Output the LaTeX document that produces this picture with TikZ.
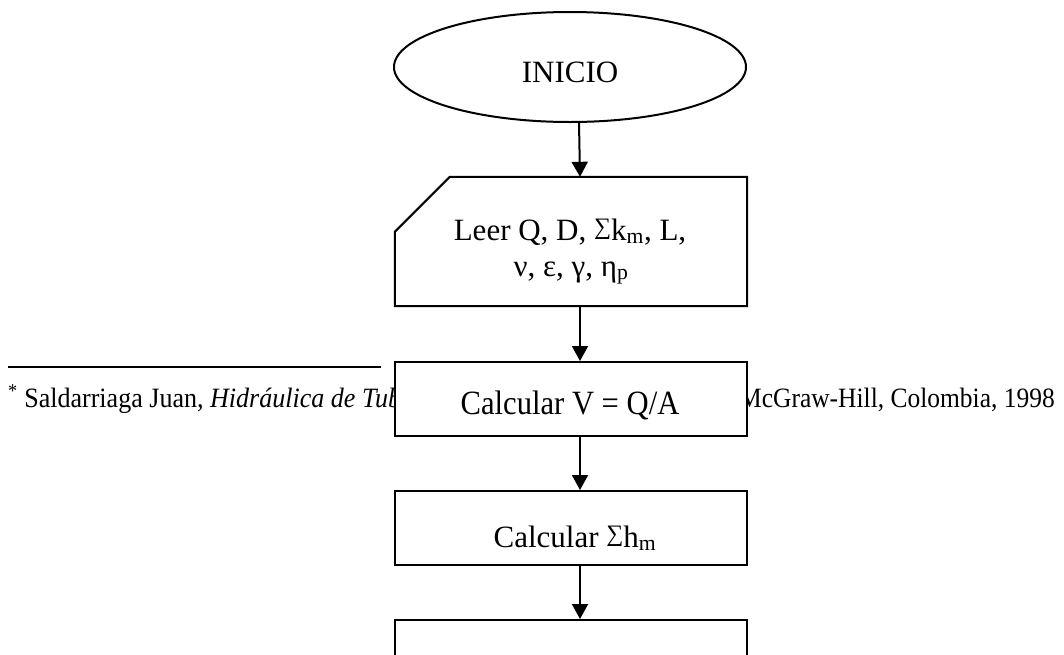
\documentclass[tikz,border=0pt]{standalone}
\usepackage{fontspec}
\setmainfont{Liberation Serif}
\usetikzlibrary{shapes.geometric,arrows.meta}

\newcommand{\chartfont}{\fontsize{31}{36}\selectfont}
\newcommand{\notefont}{\fontsize{28}{32}\selectfont}
% summation sign set on the baseline, about cap height tall
\newcommand{\sumsign}{\resizebox{0.55em}{0.66em}{\raisebox{\depth}{∑}}}

\tikzset{
  flowline/.style={line width=2pt},
  flowarrow/.style={flowline,-{Triangle[length=15pt,width=16pt]}},
  terminal/.style={ellipse,draw,flowline,fill=white,inner sep=0pt,
    minimum width=352pt,minimum height=110pt},
  procbox/.style={rectangle,draw,flowline,fill=white,inner sep=0pt,
    minimum width=352pt,minimum height=74pt},
  frame/.style={rectangle,inner sep=0pt,minimum width=352pt,minimum height=129pt},
  label/.style={inner sep=0pt,font=\chartfont},
  note/.style={inner sep=0pt,font=\notefont},
}

\begin{document}
\begin{tikzpicture}[x=1pt,y=-1pt]
  \useasboundingbox (0,0) rectangle (1064,654);
  \clip (0,0) rectangle (1064,654);

  % footnote separator and footnote text
  \coordinate (ruleA) at (8,367);
  \coordinate (ruleB) at (381,367);
  \draw[line width=1.6pt] (ruleA) -- (ruleB);
  \node[note,anchor=base west] (noteL) at (8,407)
    {\scalebox{0.93}[1]{\textsuperscript{*}\ Saldarriaga Juan, \textit{Hidráulica de Tub}}};
  \node[note,anchor=base east] (noteR) at (1055,407)
    {\scalebox{0.91}[1]{McGraw-Hill, Colombia, 1998}};

  % start terminal
  \node[terminal] (start) at (570,67) {};
  \node[label,anchor=base] (startTxt) at (570,82) {INICIO};

  % data input (chamfered corner)
  \node[frame] (read) at (571,241.5) {};
  \draw[flowline,fill=white,line join=miter]
    (read.south west) -- (read.south east) -- (read.north east)
    -- ([xshift=55pt]read.north west) -- ([yshift=-55pt]read.north west) -- cycle;
  \node[label,anchor=base] (readA) at (570,240)
    {Leer Q, D, \sumsign k\textsubscript{m}, L,};
  \node[label,anchor=base] (readB) at (571,276)
    {ν, ε, γ, η\textsubscript{p}};

  % processes
  \node[procbox] (velo) at (571,399) {};
  \node[label,anchor=base] (veloTxt) at (570,414)
    {\fontsize{34}{40}\selectfont\scalebox{0.9}[1]{Calcular V = Q/A}};

  \node[procbox] (minor) at (571,528) {};
  \node[label,anchor=base] (minorTxt) at (575,547) {Calcular \sumsign h\textsubscript{m}};

  \node[procbox] (next) at (571,657) {};

  % connectors
  \draw[flowarrow] ([xshift=9pt]start.south) -- ([xshift=9pt]read.north);
  \draw[flowarrow] ([xshift=9pt]read.south) -- ([xshift=9pt]velo.north);
  \draw[flowarrow] ([xshift=9pt]velo.south) -- ([xshift=9pt]minor.north);
  \draw[flowarrow] ([xshift=9pt]minor.south) -- ([xshift=9pt]next.north);
\end{tikzpicture}
\end{document}
